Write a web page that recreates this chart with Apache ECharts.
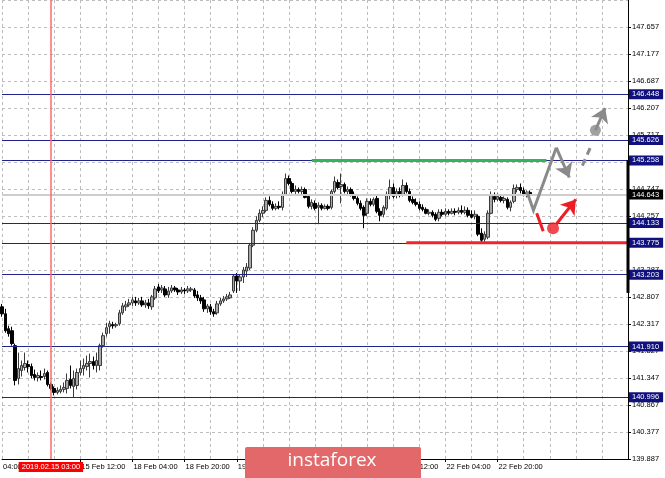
<!DOCTYPE html>
<html><head><meta charset="utf-8">
<script src="https://cdn.jsdelivr.net/npm/echarts@6/dist/echarts.min.js"></script>
<style>html,body{margin:0;padding:0;background:#fff;overflow:hidden}#c{width:665px;height:478px}</style>
</head><body><div id="c"></div>
<script>
// ---- data (USD/JPY H1 candles) ----
const opens = [
142.624,142.499,142.230,142.194,141.926,141.336,141.479,141.532,141.586,141.550,
141.407,141.353,141.371,141.371,141.443,141.228,141.157,141.085,141.103,141.139,
141.157,141.318,141.192,141.210,141.443,141.514,141.550,141.604,141.640,141.568,
141.568,141.926,142.141,142.266,142.302,142.284,142.320,142.516,142.624,142.659,
142.695,142.731,142.695,142.731,142.659,142.695,142.624,142.785,142.982,142.928,
142.946,142.838,142.910,142.964,142.928,142.892,142.928,142.910,142.928,142.928,
142.838,142.785,142.749,142.588,142.624,142.534,142.516,142.677,142.731,142.767,
142.785,142.910,143.178,143.089,143.161,143.268,143.322,143.733,144.001,144.180,
144.306,144.359,144.538,144.467,144.395,144.431,144.413,144.646,144.932,144.843,
144.699,144.735,144.699,144.735,144.610,144.431,144.485,144.413,144.449,144.395,
144.431,144.413,144.699,144.861,144.789,144.825,144.699,144.735,144.646,144.574,
144.485,144.413,144.306,144.521,144.467,144.574,144.341,144.288,144.395,144.646,
144.771,144.628,144.699,144.646,144.807,144.699,144.556,144.503,144.467,144.413,
144.377,144.306,144.324,144.288,144.216,144.324,144.288,144.341,144.306,144.341,
144.324,144.359,144.324,144.359,144.288,144.252,144.252,143.948,143.840,143.876,
144.306,144.610,144.556,144.592,144.538,144.556,144.413,144.521,144.735,144.771,
144.717,144.646,144.682];
const closes = [
142.499,142.194,142.141,141.962,141.300,141.514,141.568,141.604,141.550,141.389,
141.353,141.389,141.353,141.425,141.228,141.157,141.085,141.121,141.139,141.175,
141.300,141.210,141.336,141.443,141.514,141.568,141.604,141.640,141.568,141.658,
141.926,142.105,142.248,142.320,142.284,142.302,142.516,142.641,142.659,142.695,
142.749,142.695,142.731,142.659,142.695,142.641,142.803,142.946,142.910,142.964,
142.838,142.910,142.964,142.928,142.892,142.928,142.910,142.946,142.946,142.820,
142.785,142.731,142.588,142.641,142.534,142.499,142.677,142.731,142.767,142.803,
142.838,143.178,143.089,143.161,143.286,143.340,143.733,144.001,144.180,144.306,
144.359,144.538,144.467,144.395,144.431,144.413,144.646,144.932,144.843,144.699,
144.735,144.699,144.735,144.592,144.431,144.503,144.395,144.449,144.395,144.431,
144.395,144.699,144.878,144.771,144.825,144.699,144.735,144.646,144.574,144.485,
144.395,144.270,144.521,144.467,144.556,144.341,144.270,144.413,144.646,144.771,
144.610,144.699,144.628,144.807,144.699,144.538,144.503,144.467,144.395,144.377,
144.306,144.324,144.270,144.198,144.324,144.288,144.341,144.306,144.341,144.324,
144.359,144.324,144.359,144.270,144.234,144.288,143.930,143.822,143.930,144.306,
144.628,144.556,144.610,144.538,144.574,144.413,144.503,144.753,144.771,144.717,
144.646,144.682,144.643];
const lows = [
142.445,142.159,142.087,141.926,141.210,141.228,141.371,141.479,141.443,141.336,
141.300,141.282,141.300,141.318,141.192,141.121,141.031,141.049,141.067,141.085,
141.067,141.157,140.996,141.139,141.389,141.389,141.479,141.353,141.496,141.443,
141.479,141.890,142.087,142.141,142.230,142.248,142.284,142.481,142.552,142.624,
142.641,142.641,142.659,142.624,142.606,142.588,142.570,142.749,142.874,142.874,
142.803,142.785,142.874,142.892,142.838,142.856,142.856,142.874,142.892,142.785,
142.731,142.677,142.534,142.516,142.481,142.445,142.481,142.641,142.695,142.731,
142.767,142.874,142.874,142.910,143.053,143.161,143.286,143.697,143.966,144.145,
144.234,144.324,144.431,144.359,144.359,144.377,144.359,144.628,144.807,144.664,
144.646,144.664,144.646,144.574,144.395,144.377,144.359,144.109,144.359,144.377,
144.359,144.377,144.664,144.735,144.485,144.664,144.646,144.610,144.538,144.449,
144.359,144.037,144.252,144.431,144.431,144.306,144.163,144.234,144.359,144.556,
144.574,144.574,144.592,144.610,144.664,144.503,144.467,144.431,144.359,144.341,
144.288,144.270,144.234,144.163,144.163,144.252,144.252,144.270,144.288,144.270,
144.288,144.288,144.288,144.234,144.216,144.198,143.894,143.787,143.787,143.840,
144.288,144.503,144.521,144.503,144.485,144.377,144.341,144.485,144.682,144.664,
144.610,144.592,144.574];
const highs = [
142.677,142.588,142.284,142.266,141.962,141.801,141.658,141.801,141.658,141.604,
141.496,141.443,141.479,141.514,141.479,141.264,141.192,141.175,141.210,141.264,
141.425,141.568,141.479,141.514,141.658,141.693,141.747,141.783,141.729,141.801,
141.962,142.159,142.338,142.373,142.355,142.338,142.570,142.695,142.731,142.767,
142.803,142.803,142.785,142.803,142.749,142.767,142.838,142.999,143.035,143.017,
142.999,142.982,143.017,142.999,142.964,142.982,142.964,142.999,142.982,142.964,
142.910,142.838,142.803,142.677,142.677,142.588,142.731,142.785,142.820,142.856,
142.892,143.214,143.232,143.214,143.340,143.411,143.769,144.055,144.252,144.377,
144.431,144.592,144.610,144.521,144.485,144.521,144.699,145.022,144.986,144.878,
144.807,144.771,144.789,144.771,144.646,144.556,144.538,144.503,144.485,144.467,
144.467,144.735,144.968,144.914,145.022,144.861,144.789,144.771,144.699,144.610,
144.538,144.449,144.574,144.574,144.592,144.628,144.395,144.449,144.699,144.914,
144.843,144.753,144.771,144.914,144.861,144.753,144.610,144.574,144.521,144.467,
144.413,144.377,144.359,144.324,144.377,144.377,144.395,144.377,144.395,144.395,
144.413,144.449,144.431,144.413,144.359,144.359,144.288,144.037,143.983,144.359,
144.699,144.682,144.664,144.628,144.610,144.592,144.538,144.825,144.825,144.843,
144.771,144.717,144.717];

const barCount = 193;                       // slots on the time axis (incl. empty right margin)
const xTickIdx  = [0, 24, 40, 56, 72, 88, 104, 120, 136, 152];
const xTickText = ['04:00','15 Feb 12:00','18 Feb 04:00','18 Feb 20:00','19 Feb 12:00',
                   '20 Feb 04:00','20 Feb 20:00','21 Feb 12:00','22 Feb 04:00','22 Feb 20:00'];
const yMin = 139.887, yStep = 0.485625, yMax = 148.142625;
const yTickText = ['139.887','140.377','140.867','141.347','141.827','142.317','142.807','143.287',
                   '143.767','144.257','144.747','145.237','145.717','146.207','146.687','147.177','147.657',''];
const levelLines = [146.448, 145.626, 145.258, 144.133, 143.775, 143.203, 141.910, 140.996];
const lastPrice = 144.643;
const markerBar = 15, markerText = '2019.02.15 03:00';
const greenLevel = [[95, 145.258], [167, 145.258]];
const redLevel   = [[124, 143.775], [192, 143.775]];
const rangeBar   = [[192, 145.258], [192, 142.874]];
const grayPath   = [[161.2, 144.699], [163.3, 144.359], [170.0, 145.487]];
const grayArrow  = [[170.0, 145.487], [173.7, 144.950]];
const grayDash   = [[178.4, 145.165], [180.6, 145.560]];
const grayDot    = [181.7, 145.800];
const grayArrow2 = [[181.7, 145.800], [184.6, 146.200]];
const redDash    = [[164.2, 144.306], [166.4, 143.983]];
const redDot     = [169.1, 144.037];
const redArrow   = [[170.0, 144.109], [175.5, 144.556]];

// ---- build ----
const cats = [];
for (let i = 0; i < barCount; i++) cats.push(String(i));
const candles = opens.map((o, i) => [o, closes[i], lows[i], highs[i]]);
const tickSet = new Set(xTickIdx.slice(1));
const labelMap = {};
xTickIdx.forEach((k, j) => labelMap[k] = xTickText[j]);
const FONT = 'Liberation Sans';
const NAVY = '#22228c';

const chart = echarts.init(document.getElementById('c'), null, {renderer: 'canvas'});
const levelData = levelLines.map(v => ({
  yAxis: v,
  lineStyle: {color: NAVY, width: 1, type: 'solid'},
  label: {backgroundColor: '#10107e'}
}));
levelData.push({
  yAxis: lastPrice,
  lineStyle: {color: '#cdcdcd', width: 2, type: 'solid'},
  label: {backgroundColor: '#000'}
});

chart.setOption({
  animation: false,
  backgroundColor: '#fff',
  grid: {left: -1, right: 37, top: -2.4, bottom: 19, containLabel: false},
  xAxis: {
    type: 'category', data: cats, boundaryGap: false,
    axisLine: {show: true, lineStyle: {color: '#000', width: 1}},
    axisTick: {show: true, length: 3, interval: (i) => tickSet.has(i), lineStyle: {color: '#000'}},
    axisLabel: {
      show: true, interval: (i) => labelMap[i] !== undefined,
      formatter: (v, i) => labelMap[i] || '',
      align: 'left', margin: 4, fontSize: 7.5, fontFamily: FONT, color: '#000', padding: [0, 0, 0, 1]
    },
    splitLine: {show: true, interval: (i) => i % 8 === 0, lineStyle: {color: '#bdbdbd', type: [3, 3], width: 1}}
  },
  yAxis: {
    type: 'value', position: 'right', min: yMin, max: yMax, interval: yStep, scale: true,
    axisLine: {show: true, lineStyle: {color: '#000', width: 1}},
    axisTick: {show: true, length: 3, lineStyle: {color: '#000'}},
    axisLabel: {
      show: true, margin: 4, fontSize: 7.5, fontFamily: FONT, color: '#000',
      showMaxLabel: false,
      formatter: (v) => yTickText[Math.round((v - yMin) / yStep)] || ''
    },
    splitLine: {show: true, lineStyle: {color: '#bdbdbd', type: [3, 3], width: 1}}
  },
  series: [
    {
      type: 'candlestick', data: candles, barWidth: 3, z: 3,
      itemStyle: {color: '#a8a8a8', color0: '#000000', borderColor: '#3a3a3a', borderColor0: '#000000', borderWidth: 1},
      markLine: {
        silent: true, symbol: ['none', 'none'], precision: 3, z: 5,
        label: {
          show: true, position: 'end', distance: 1, color: '#fff', fontSize: 7.5, fontFamily: FONT,
          padding: [1, 4, 1, 3], formatter: (p) => Number(p.value).toFixed(3)
        },
        data: levelData.concat([{
          xAxis: markerBar,
          lineStyle: {color: '#ff6a6a', width: 1.5, type: 'solid'},
          label: {position: 'start', distance: 3, backgroundColor: '#ff0000', color: '#fff',
                  padding: [1, 3, 1, 3], formatter: () => markerText}
        }])
      }
    },
    {type: 'line', data: greenLevel, showSymbol: false, z: 9, silent: true,
     lineStyle: {color: '#34b35f', width: 3}},
    {type: 'line', data: redLevel, showSymbol: false, z: 9, silent: true, clip: false,
     lineStyle: {color: '#f0242a', width: 3}},
    {type: 'line', data: rangeBar, showSymbol: false, z: 9, silent: true, clip: false,
     lineStyle: {color: '#000', width: 3}},
    {type: 'line', data: grayPath, showSymbol: false, z: 10, silent: true,
     lineStyle: {color: '#8a8a8a', width: 3, join: 'miter'}},
    {type: 'lines', coordinateSystem: 'cartesian2d', z: 10, silent: true,
     symbol: ['none', 'arrow'], symbolSize: [12, 14],
     lineStyle: {color: '#8a8a8a', width: 3, opacity: 1, curveness: 0},
     data: [{coords: grayArrow}, {coords: grayArrow2}]},
    {type: 'line', data: grayDash, showSymbol: false, z: 10, silent: true,
     lineStyle: {color: '#8a8a8a', width: 3, type: [7, 5]}},
    {type: 'scatter', data: [grayDot], symbolSize: 11, z: 11, silent: true,
     itemStyle: {color: '#8a8a8a'}},
    {type: 'line', data: redDash, showSymbol: false, z: 10, silent: true,
     lineStyle: {color: '#ee1c25', width: 3}},
    {type: 'scatter', data: [redDot], symbolSize: 12, z: 11, silent: true,
     itemStyle: {color: '#ee1c25'}},
    {type: 'lines', coordinateSystem: 'cartesian2d', z: 10, silent: true,
     symbol: ['none', 'arrow'], symbolSize: [12, 14],
     lineStyle: {color: '#ee1c25', width: 3, opacity: 1, curveness: 0},
     data: [{coords: redArrow}]}
  ],
  graphic: [
    {type: 'rect', z: 100, shape: {x: 245, y: 447, width: 176, height: 34, r: 2},
     style: {fill: '#e2686a'}},
    {type: 'text', z: 101,
     style: {x: 332, y: 461, text: 'instaforex', align: 'center', verticalAlign: 'middle',
             fill: '#ffffff', font: '19px "Open Sans"'}}
  ]
});
</script>
</body></html>
